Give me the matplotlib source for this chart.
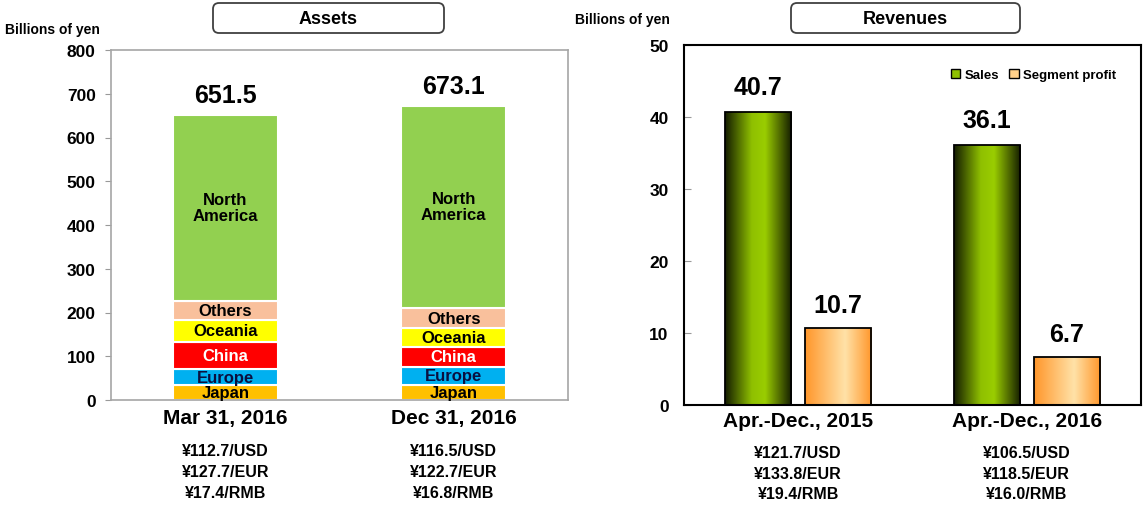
import numpy as np
import matplotlib
matplotlib.use("Agg")
import matplotlib.pyplot as plt
from matplotlib.patches import Patch, FancyBboxPatch
from matplotlib.colors import LinearSegmentedColormap

plt.rcParams['font.family'] = ['Liberation Sans Narrow', 'Liberation Sans', 'DejaVu Sans']
plt.rcParams['font.weight'] = 'bold'

# ---------------- data ----------------
asset_dates = ["Mar 31, 2016", "Dec 31, 2016"]
asset_totals = [651.5, 673.1]
regions = ["Japan", "Europe", "China", "Oceania", "Others", "North\nAmerica"]
japan = [35, 35]
europe = [35, 40]
china = [63, 47]
oceania = [50, 42]
others = [44, 46]
north_america = [424.5, 463.1]
asset_rates = ["¥112.7/USD\n¥127.7/EUR\n¥17.4/RMB", "¥116.5/USD\n¥122.7/EUR\n¥16.8/RMB"]

rev_periods = ["Apr.-Dec., 2015", "Apr.-Dec., 2016"]
sales = [40.7, 36.1]
segment_profit = [10.7, 6.7]
rev_rates = ["¥121.7/USD\n¥133.8/EUR\n¥19.4/RMB", "¥106.5/USD\n¥118.5/EUR\n¥16.0/RMB"]

seg_colors = ["#ffc000", "#00b0f0", "#ff0000", "#ffff00", "#f9c09c", "#92d050"]
seg_text_colors = ["black", "#0a1040", "white", "black", "black", "black"]

W, H = 1144, 510
fig = plt.figure(figsize=(W / 100, H / 100), dpi=100)

def fx(px):
    return px / W

def fy(py):
    return 1 - py / H

# ---------------- left: Assets ----------------
axL = fig.add_axes([fx(111), fy(401), fx(568) - fx(111), fy(51) - fy(401)])
xs = np.arange(len(asset_dates))
stack = [japan, europe, china, oceania, others, north_america]
bottom = np.zeros(len(xs))
for vals, col, name, tcol in zip(stack, seg_colors, regions, seg_text_colors):
    vals = np.array(vals, dtype=float)
    axL.bar(xs, vals, bottom=bottom, width=0.46, color=col, edgecolor="white", linewidth=1.5, zorder=2)
    for i in range(len(xs)):
        axL.text(xs[i], bottom[i] + vals[i] / 2, name, ha="center", va="center",
                 fontsize=12, fontweight="bold", color=tcol, zorder=3, linespacing=1.1)
    bottom += vals
for i, t in enumerate(asset_totals):
    axL.annotate(f"{t:.1f}", xy=(xs[i], t), xytext=(0, 8), textcoords="offset pixels",
                 ha="center", va="bottom", fontsize=18, fontweight="bold")
axL.set_xlim(-0.5, 1.5)
axL.set_ylim(0, 800)
axL.set_yticks(np.arange(0, 801, 100))
axL.set_xticks(xs)
axL.set_xticklabels(asset_dates, fontsize=15, fontweight="bold")
axL.tick_params(axis="x", length=0, pad=6)
axL.tick_params(axis="y", direction="out", length=4, color="#999999", pad=7, labelsize=12.5)
for lab in axL.get_yticklabels():
    lab.set_fontweight("bold")
for s in axL.spines.values():
    s.set_color("#a6a6a6")
    s.set_linewidth(1.2)
for i, r in enumerate(asset_rates):
    for j, line in enumerate(r.split("\n")):
        axL.annotate(line, xy=(xs[i], 0), xycoords=("data", "axes fraction"),
                     xytext=(0, -51 - 21 * j), textcoords="offset pixels",
                     ha="center", va="center", fontsize=11.5, fontweight="bold")

# ---------------- right: Revenues ----------------
axR = fig.add_axes([fx(684), fy(406), fx(1141) - fx(684), fy(46) - fy(406)])
xr = np.arange(len(rev_periods))
bw = 0.29
off = 0.175
green_cmap = LinearSegmentedColormap.from_list(
    "g", [(0, "#141c00"), (0.4, "#8fc000"), (0.6, "#9acd00"), (1, "#141c00")])
orange_cmap = LinearSegmentedColormap.from_list(
    "o", [(0, "#ff962a"), (0.6, "#ffe2a8"), (1, "#ff962a")])

def gradient_fill(ax, bars, cmap):
    grad = np.linspace(0, 1, 256).reshape(1, -1)
    for rect in bars:
        x0, y0 = rect.get_x(), rect.get_y()
        w, h = rect.get_width(), rect.get_height()
        im = ax.imshow(grad, extent=[x0, x0 + w, y0, y0 + h], aspect="auto",
                       cmap=cmap, interpolation="bicubic", zorder=1.5)
        im.set_clip_path(rect)

b1 = axR.bar(xr - off, sales, width=bw, facecolor="none", edgecolor="black", linewidth=1.3, zorder=2)
b2 = axR.bar(xr + off, segment_profit, width=bw, facecolor="none", edgecolor="black", linewidth=1.3, zorder=2)
gradient_fill(axR, b1, green_cmap)
gradient_fill(axR, b2, orange_cmap)
for i in range(len(xr)):
    axR.annotate(f"{sales[i]:.1f}", xy=(xr[i] - off, sales[i]), xytext=(0, 13), textcoords="offset pixels",
                 ha="center", va="bottom", fontsize=18, fontweight="bold")
    axR.annotate(f"{segment_profit[i]:.1f}", xy=(xr[i] + off, segment_profit[i]), xytext=(0, 11),
                 textcoords="offset pixels", ha="center", va="bottom", fontsize=18, fontweight="bold")
axR.set_xlim(-0.5, 1.5)
axR.set_ylim(0, 50)
axR.set_yticks(np.arange(0, 51, 10))
axR.set_xticks(xr)
axR.set_xticklabels(rev_periods, fontsize=15, fontweight="bold")
axR.tick_params(axis="x", length=0, pad=4)
axR.tick_params(axis="y", direction="in", length=5, color="#999999", pad=11, labelsize=12.5)
for lab in axR.get_yticklabels():
    lab.set_fontweight("bold")
for s in axR.spines.values():
    s.set_color("black")
    s.set_linewidth(1.5)
for i, r in enumerate(rev_rates):
    for j, line in enumerate(r.split("\n")):
        axR.annotate(line, xy=(xr[i], 0), xycoords=("data", "axes fraction"),
                     xytext=(0, -48 - 20.5 * j), textcoords="offset pixels",
                     ha="center", va="center", fontsize=11.5, fontweight="bold")
handles = [Patch(facecolor="#8fc000", edgecolor="black", label="Sales"),
           Patch(facecolor="#ffd08a", edgecolor="black", label="Segment profit")]
axR.legend(handles=handles, loc="center right", bbox_to_anchor=(0.965, 0.917), ncol=2, frameon=False,
           handlelength=0.7, handleheight=0.7, handletextpad=0.3, columnspacing=0.8,
           borderpad=0.2, prop={"weight": "bold", "size": 9.5})

# ---------------- titles and unit labels ----------------
def title_box(x0, y0, x1, y1, text):
    box = FancyBboxPatch((x0 / 100, (H - y1) / 100), (x1 - x0) / 100, (y1 - y0) / 100,
                         boxstyle="round,pad=0,rounding_size=0.06", transform=fig.dpi_scale_trans,
                         facecolor="white", edgecolor="#404040", linewidth=1.3)
    fig.patches.append(box)
    fig.text(fx((x0 + x1) / 2), fy((y0 + y1) / 2), text, ha="center", va="center",
             fontsize=13, fontweight="bold")

title_box(213, 4, 444, 34, "Assets")
title_box(791, 4, 1020, 34, "Revenues")
fig.text(fx(5), fy(30), "Billions of yen", ha="left", va="center", fontsize=10, fontweight="bold")
fig.text(fx(575), fy(20), "Billions of yen", ha="left", va="center", fontsize=10, fontweight="bold")

fig.savefig("out.png", dpi=100)
